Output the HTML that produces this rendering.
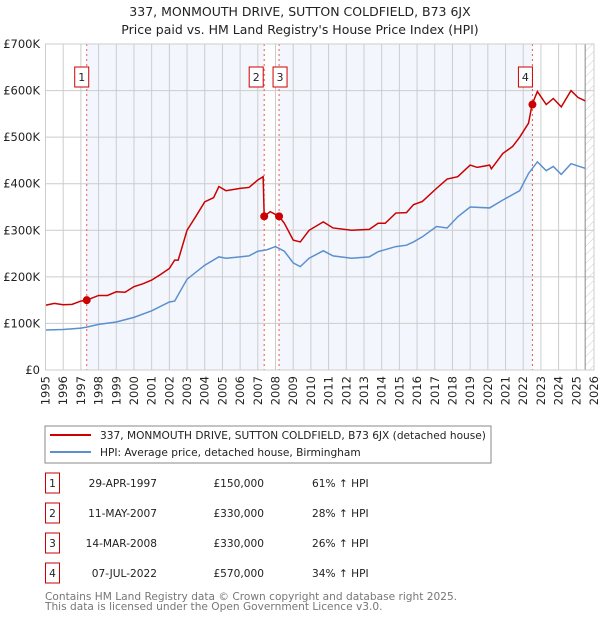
<!DOCTYPE html>
<html><head><meta charset="utf-8"><style>
body{margin:0;background:#fff;width:600px;height:620px;overflow:hidden;font-family:"DejaVu Sans","Liberation Sans",sans-serif}
svg text{font-family:"DejaVu Sans","Liberation Sans",sans-serif}
</style></head><body>
<svg id="c" width="600" height="620" xmlns="http://www.w3.org/2000/svg">
<defs><pattern id="hatch" width="6" height="6" patternUnits="userSpaceOnUse" patternTransform="rotate(45)"><line x1="0" y1="0" x2="0" y2="6" stroke="#ccc" stroke-width="1"/></pattern></defs>
<text x="300" y="16" text-anchor="middle" font-size="12.5" fill="#222">337, MONMOUTH DRIVE, SUTTON COLDFIELD, B73 6JX</text>
<text x="300" y="34" text-anchor="middle" font-size="12.5" fill="#222">Price paid vs. HM Land Registry's House Price Index (HPI)</text>
<g id="plot"></g>
<rect x="45" y="426" width="446" height="37" fill="#fff" stroke="#888"/>
<line x1="50" y1="435" x2="91" y2="435" stroke="#cc0000" stroke-width="2"/>
<text x="100" y="439" font-size="10.6" fill="#222">337, MONMOUTH DRIVE, SUTTON COLDFIELD, B73 6JX (detached house)</text>
<line x1="50" y1="452" x2="91" y2="452" stroke="#5b8fd0" stroke-width="2"/>
<text x="100" y="456" font-size="10.6" fill="#222">HPI: Average price, detached house, Birmingham</text>
<g id="table"></g>
<text x="45" y="600" font-size="10.6" fill="#777">Contains HM Land Registry data © Crown copyright and database right 2025.</text>
<text x="45" y="610" font-size="10.6" fill="#777">This data is licensed under the Open Government Licence v3.0.</text>
</svg>
<script>
const years=[1995,1996,1997,1998,1999,2000,2001,2002,2003,2004,2005,2006,2007,2008,2009,2010,2011,2012,2013,2014,2015,2016,2017,2018,2019,2020,2021,2022,2023,2024,2025,2026];
const yTicks=[0,100000,200000,300000,400000,500000,600000,700000];
const yTickLabels=["£0","£100K","£200K","£300K","£400K","£500K","£600K","£700K"];
const redT=[1995,1995.5,1996,1996.5,1997,1997.33,1998,1998.5,1999,1999.5,2000,2000.5,2001,2001.5,2002,2002.3,2002.5,2003,2003.5,2004,2004.5,2004.8,2005.2,2006,2006.5,2007,2007.3,2007.36,2007.7,2008.2,2008.5,2009,2009.4,2009.9,2010.7,2011.25,2012.3,2013.3,2013.8,2014.2,2014.8,2015.4,2015.8,2016.3,2017.1,2017.7,2018.3,2019,2019.4,2020.1,2020.2,2020.85,2021.4,2021.8,2022.3,2022.5,2022.8,2023.3,2023.7,2024.15,2024.7,2025.1,2025.5];
const redV=[139,143,140,141,148,150,160,160,168,167,179,185,193,205,218,236,236,300,330,361,370,394,385,390,392,408,415,330,340,330,315,279,275,300,318,305,300,302,315,315,337,338,355,362,390,410,415,440,435,440,432,465,480,500,530,570,598,570,583,565,600,585,578];
const hpiT=[1995,1996,1997,1997.33,1998,1999,2000,2001,2002,2002.3,2003,2004,2004.8,2005.2,2006,2006.5,2007,2007.5,2008,2008.5,2009,2009.4,2009.9,2010.7,2011.25,2012.3,2013.3,2013.8,2014.8,2015.4,2015.8,2016.3,2017.1,2017.7,2018.3,2019,2020.1,2020.85,2021.8,2022.3,2022.8,2023.3,2023.7,2024.15,2024.7,2025.5];
const hpiV=[86,87,90,92,98,103,113,127,146,148,195,225,243,240,243,245,255,258,265,255,230,222,240,256,245,240,243,254,265,268,275,286,308,305,329,350,348,365,385,422,447,428,437,420,443,433];
const saleT=[1997.33,2007.36,2008.2,2022.52];
const saleV=[150,330,330,570];
const saleLabels=["1","2","3","4"];
const saleDates=["29-APR-1997","11-MAY-2007","14-MAR-2008","07-JUL-2022"];
const salePrices=["£150,000","£330,000","£330,000","£570,000"];
const saleHpi=["61% ↑ HPI","28% ↑ HPI","26% ↑ HPI","34% ↑ HPI"];
const X0=45.5,X1=594,Y0=370,Y1=44;
const xs=t=>X0+(t-1995)*(X1-X0)/31;
const ys=v=>Y0-v*(Y0-Y1)/700000;
const NS="http://www.w3.org/2000/svg";
const plot=document.getElementById('plot');
function mk(tag,attrs,parent){const e=document.createElementNS(NS,tag);for(const k in attrs)e.setAttribute(k,attrs[k]);(parent||plot).appendChild(e);return e;}
let e;
e=mk('rect',{x:xs(saleT[0]),y:Y1,width:xs(saleT[1])-xs(saleT[0]),height:Y0-Y1,fill:'#eef3fc',opacity:0.7});


e=mk('rect',{x:xs(saleT[2]),y:Y1,width:xs(saleT[3])-xs(saleT[2]),height:Y0-Y1,fill:'#eef3fc',opacity:0.7});


e=mk('rect',{x:xs(2025.5),y:Y1,width:X1-xs(2025.5),height:Y0-Y1,fill:'url(#hatch)'});


years.forEach(y=>{
 e=mk('line',{x1:xs(y),x2:xs(y),y1:Y1,y2:Y0,stroke:'#ccc','stroke-width':1});
 
 
 e=mk('text',{x:0,y:0,'font-size':11.5,fill:'#222','text-anchor':'end',transform:`translate(${xs(y)+4},${Y0+6}) rotate(-90)`});
 e.textContent=y;
 
 
});
yTicks.forEach((v,i)=>{
 e=mk('line',{x1:X0,x2:X1,y1:ys(v),y2:ys(v),stroke:'#ccc','stroke-width':1});
 
 
 e=mk('text',{x:40,y:ys(v)+4,'font-size':11.5,fill:'#222','text-anchor':'end'});
 e.textContent=yTickLabels[i];
 
 
});
e=mk('line',{x1:xs(2025.5),x2:xs(2025.5),y1:Y1,y2:Y0,stroke:'#888','stroke-width':1});


saleT.forEach((t,i)=>{
 e=mk('line',{x1:xs(t),x2:xs(t),y1:Y1,y2:Y0,stroke:'#e55','stroke-width':1,'stroke-dasharray':'2,3'});
 
 
});
e=mk('polyline',{points:hpiT.map((t,i)=>xs(t)+','+ys(hpiV[i]*1000)).join(' '),fill:'none',stroke:'#5b8fd0','stroke-width':1.5});


e=mk('polyline',{points:redT.map((t,i)=>xs(t)+','+ys(redV[i]*1000)).join(' '),fill:'none',stroke:'#cc0000','stroke-width':1.5});


saleT.forEach((t,i)=>{
 e=mk('circle',{cx:xs(t),cy:ys(saleV[i]*1000),r:4,fill:'#cc0000'});
 
 
 let bx=xs(t)-7-(i==1?8:0)+(i==2?1:0)-(i==3?7:0);
 if(i==0)bx=xs(t)-12;
 e=mk('rect',{x:bx,y:67,width:14,height:20,fill:'#fff',stroke:'#cc0000'});
 
 
 e=mk('text',{x:bx+7,y:81,'font-size':11,fill:'#222','text-anchor':'middle'});
 e.textContent=saleLabels[i];
 
 
});
e=mk('rect',{x:X0,y:Y1,width:X1-X0,height:Y0-Y1,fill:'none',stroke:'#ccc'});


const tb=document.getElementById('table');
saleT.forEach((t,i)=>{
 const cy=483+i*30;
 e=mk('rect',{x:45.5,y:cy-10,width:14,height:20,fill:'#fff',stroke:'#cc0000'},tb);
 
 
 e=mk('text',{x:52.5,y:cy+4,'font-size':10.6,fill:'#222','text-anchor':'middle'},tb);
 e.textContent=saleLabels[i];
 
 
 e=mk('text',{x:157,y:cy+4,'font-size':10.6,fill:'#222','text-anchor':'end'},tb);
 e.textContent=saleDates[i];
 
 
 e=mk('text',{x:264,y:cy+4,'font-size':10.6,fill:'#222','text-anchor':'end'},tb);
 e.textContent=salePrices[i];
 
 
 e=mk('text',{x:312,y:cy+4,'font-size':10.6,fill:'#222'},tb);
 e.textContent=saleHpi[i];
 
 
});
</script>
</body></html>
